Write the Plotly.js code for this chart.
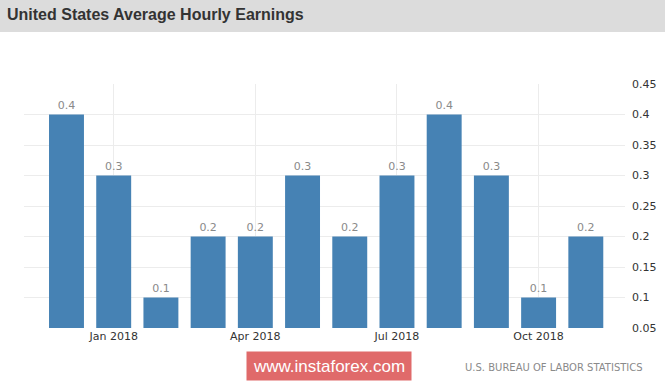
<!DOCTYPE html>
<html><head><meta charset="utf-8">
<script src="https://cdn.plot.ly/plotly-3.0.1.min.js"></script>
<style>html,body{margin:0;padding:0;background:#fff;}#chart{width:665px;height:383px;}</style>
</head><body><div id="chart"></div>
<script>
const months = ["Dec 2017","Jan 2018","Feb 2018","Mar 2018","Apr 2018","May 2018","Jun 2018","Jul 2018","Aug 2018","Sep 2018","Oct 2018","Nov 2018"];
const values = [0.4,0.3,0.1,0.2,0.2,0.3,0.2,0.3,0.4,0.3,0.1,0.2];
const tickLabels = ["Jan 2018","Apr 2018","Jul 2018","Oct 2018"];
const yTicks = [0.05,0.1,0.15,0.2,0.25,0.3,0.35,0.4,0.45];

const idx = months.map((m,i)=>i);
const tickIdx = tickLabels.map(t=>months.indexOf(t));

const trace = {
  type:'bar', x: idx, y: values, base: 0,
  marker:{color:'#4682b4'},
  text: values.map(v=>String(v)), textposition:'outside', cliponaxis:false,
  textfont:{family:'DejaVu Sans', size:11, color:'#8a8a8a'},
  hoverinfo:'none'
};
const W=665,H=383,L=24,R=40,T=84,B=55;
const pw=W-L-R, ph=H-T-B;
const layout = {
  width:W, height:H,
  margin:{l:L,r:R,t:T,b:B,pad:0},
  paper_bgcolor:'#fff', plot_bgcolor:'#fff',
  bargap:0.26, showlegend:false,
  xaxis:{range:[-0.9,11.83], tickvals:tickIdx, ticktext:tickLabels, showgrid:true, gridcolor:'#ececec',
    zeroline:false, showline:false, ticks:'', tickfont:{family:'DejaVu Sans', size:11, color:'#333'}, fixedrange:true},
  yaxis:{range:[0.05,0.45], side:'right', tickvals:yTicks, ticktext:yTicks.map(String), showgrid:true, gridcolor:'#ececec',
    zeroline:false, showline:false, ticks:'', ticklabelstandoff:6, tickfont:{family:'DejaVu Sans', size:11, color:'#333'}, fixedrange:true},
  shapes:[{type:'rect', xref:'paper', yref:'paper', x0:-L/pw, x1:1+R/pw, y0:1+(T-32)/ph, y1:1+T/ph, fillcolor:'#dcdcdc', line:{width:0}, layer:'below'}],
  annotations:[
    {text:'<b>United States Average Hourly Earnings</b>', xref:'paper', yref:'paper', x:-(L-5)/pw, y:1+(T-15)/ph, xanchor:'left', yanchor:'middle', showarrow:false,
      font:{family:'Liberation Sans', size:16, color:'#333'}},
    {text:'www.instaforex.com', xref:'paper', yref:'paper', x:(329-L)/pw, y:-(366-T-ph)/ph, xanchor:'center', yanchor:'middle', showarrow:false,
      font:{family:'Liberation Sans', size:17, color:'#fff'}, bgcolor:'#e06a6a', width:158, height:22, borderpad:3},
    {text:'U.S. BUREAU OF LABOR STATISTICS', xref:'paper', yref:'paper', x:(645-L)/pw, y:-(367-T-ph)/ph, xanchor:'right', yanchor:'middle', showarrow:false,
      font:{family:'DejaVu Sans', size:10, color:'#8a8a8a'}}
  ]
};
Plotly.newPlot('chart',[trace],layout,{displayModeBar:false, staticPlot:true});
</script></body></html>
